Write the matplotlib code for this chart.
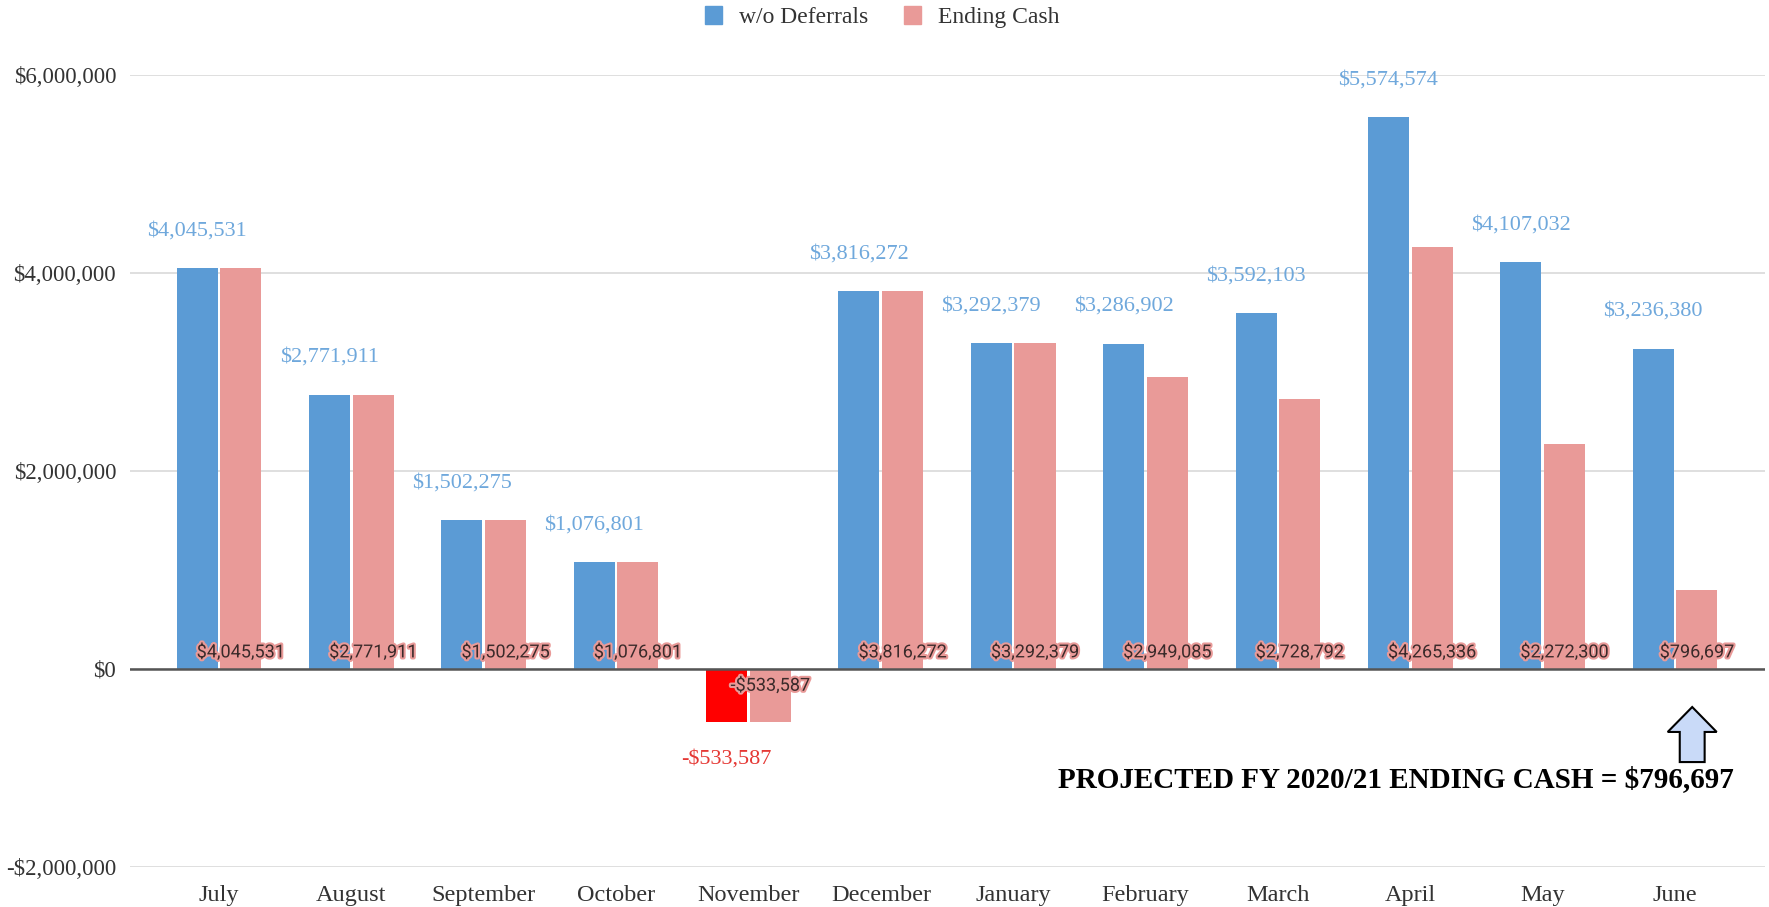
import numpy as np
import matplotlib
matplotlib.use("Agg")
import matplotlib.pyplot as plt
import matplotlib.patheffects as pe
from matplotlib.patches import Patch, Polygon

months = ["July", "August", "September", "October", "November", "December",
          "January", "February", "March", "April", "May", "June"]
wo_deferrals = [4045531, 2771911, 1502275, 1076801, -533587, 3816272,
                3292379, 3286902, 3592103, 5574574, 4107032, 3236380]
ending_cash = [4045531, 2771911, 1502275, 1076801, -533587, 3816272,
               3292379, 2949085, 2728792, 4265336, 2272300, 796697]
yticks = [-2000000, 0, 2000000, 4000000, 6000000]

BLUE = "#5b9bd5"
PINK = "#e99a98"
serif = "Liberation Serif"


def money(v):
    return "-${:,.0f}".format(-v) if v < 0 else "${:,.0f}".format(v)


fig = plt.figure(figsize=(17.69, 9.07), dpi=100)
ax = fig.add_axes([130 / 1769, 40 / 907, 1635 / 1769, 792 / 907])

x = np.arange(len(months))
w = 0.31
off = 0.165

blue_colors = ["#ff0000" if v < 0 else BLUE for v in wo_deferrals]
ax.bar(x - off, wo_deferrals, w, color=blue_colors, zorder=3)
ax.bar(x + off, ending_cash, w, color=PINK, zorder=3)

# value labels for w/o Deferrals (above / below the blue bars)
for xi, v in zip(x, wo_deferrals):
    neg = v < 0
    ax.annotate(money(v), (xi - off, v), xytext=(0, -27 if neg else 27),
                textcoords="offset points", ha="center", va="center",
                fontsize=16, family=serif,
                color="#e53935" if neg else "#6fa8dc", zorder=5)

# value labels for Ending Cash (at the base of the pink bars)
for xi, v in zip(x, ending_cash):
    ax.annotate(money(v), (xi + off, 0), xytext=(0, -12 if v < 0 else 12),
                textcoords="offset points", ha="center", va="center",
                fontsize=13, family="Roboto", color="#3a2a2a", zorder=6,
                path_effects=[pe.withStroke(linewidth=3, foreground=PINK)])

ax.set_xlim(-0.672, 11.68)
ax.set_ylim(-2000000, 6000000)
ax.set_yticks(yticks)
ax.set_yticklabels([money(v) for v in yticks], family=serif, fontsize=16.5,
                   color="#333333")
ax.set_xticks(x)
ax.set_xticklabels(months, family=serif, fontsize=17.5, color="#333333")
ax.tick_params(axis="both", length=0)
ax.tick_params(axis="y", pad=10)
ax.tick_params(axis="x", pad=13)
for s in ax.spines.values():
    s.set_visible(False)
ax.grid(axis="y", color="#d9d9d9", linewidth=1.2, zorder=0)
ax.set_axisbelow(True)
ax.axhline(0, color="#555555", linewidth=1.8, zorder=4)

# arrow under June's ending cash
ax_june = len(months) - 1 + 0.13
arrow = Polygon([(ax_june, -384000), (ax_june + 0.185, -636000),
                 (ax_june + 0.094, -636000), (ax_june + 0.094, -940000),
                 (ax_june - 0.094, -940000), (ax_june - 0.094, -636000),
                 (ax_june - 0.185, -636000)],
                closed=True, facecolor="#c9daf8", edgecolor="black",
                linewidth=1.5, zorder=5, clip_on=False)
ax.add_patch(arrow)

fig.text(1734 / 1769, 1 - 780 / 907,
         "PROJECTED FY 2020/21 ENDING CASH = " + money(ending_cash[-1]),
         ha="right", va="center", fontsize=21, fontweight="bold", family=serif,
         color="black")

handles = [Patch(color=BLUE, label="w/o Deferrals"),
           Patch(color=PINK, label="Ending Cash")]
leg = fig.legend(handles=handles, loc="center", bbox_to_anchor=(0.4986, 0.981),
                 ncol=2, frameon=False, handlelength=0.75,
                 handleheight=0.75, columnspacing=1.5, handletextpad=0.7,
                 prop={"family": serif, "size": 17})
for t in leg.get_texts():
    t.set_color("#333333")

fig.savefig("out.png", dpi=100)
